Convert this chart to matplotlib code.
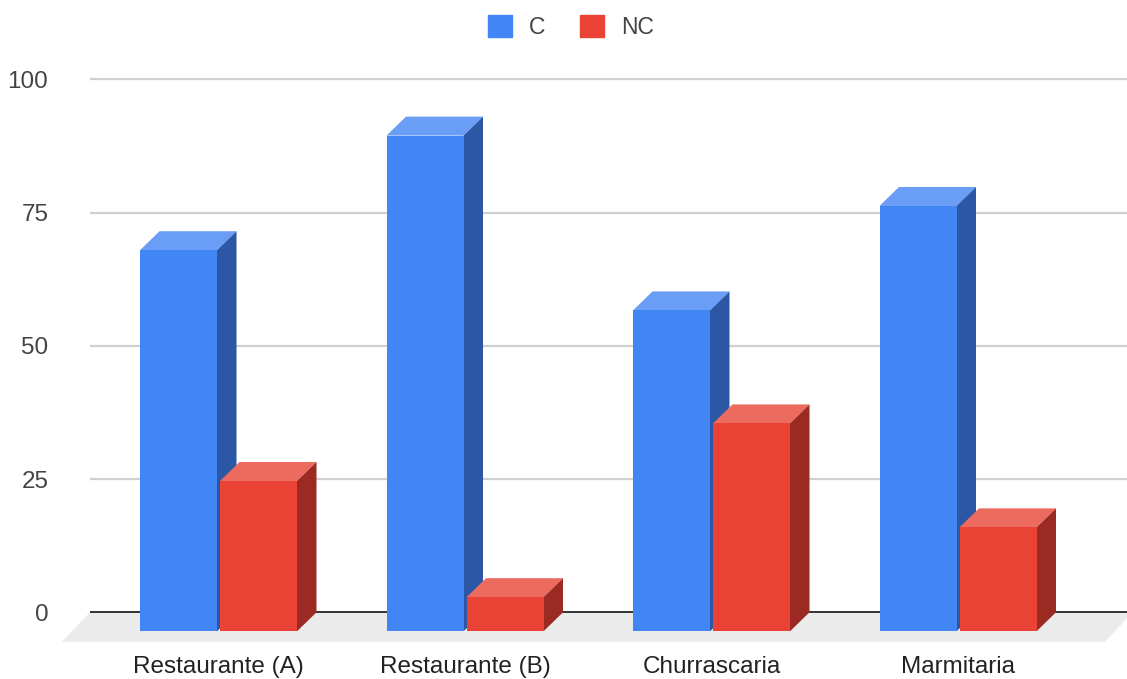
import matplotlib
matplotlib.use('Agg')
import matplotlib.pyplot as plt
from matplotlib.patches import Polygon, Patch

# data
categories = ['Restaurante (A)', 'Restaurante (B)', 'Churrascaria', 'Marmitaria']
c_values = [71.5, 93.0, 60.2, 79.8]
nc_values = [28.2, 6.4, 39.0, 19.5]
series_names = ['C', 'NC']
y_ticks = [0, 25, 50, 75, 100]

# colours: front, top, side
blue = ('#4285f4', '#6a9df6', '#2b57a5')
red = ('#ea4335', '#ed6a5e', '#9b2a22')

plt.rcParams['font.family'] = ['Liberation Sans', 'DejaVu Sans']

W, H = 1127, 679
fig = plt.figure(figsize=(W / 100, H / 100), dpi=100)
# axes box in pixels: x 90..1127, y 60..650
ax = fig.add_axes([90 / W, (H - 650) / H, (W - 90) / W, (650 - 60) / H])
px_x = 246.5      # pixels per category
px_y = 533 / 100  # pixels per unit
ax.set_xlim((90 - 218.5) / px_x, (W - 218.5) / px_x)
ax.set_ylim(-(650 - 612.3) / px_y, (612.3 - 60) / px_y)
for s in ax.spines.values():
    s.set_visible(False)

w = 77 / px_x
gap = 3 / px_x
dx = 19.5 / px_x
dy = 19 / px_y

# floor
floor = Polygon([(-0.635, -29.4 / px_y), (3.596, -29.4 / px_y),
                 (3.596 + 28 / px_x, 0), (-0.521, 0)],
                closed=True, facecolor='#ebebeb', edgecolor='none',
                clip_on=False, zorder=0)
ax.add_patch(floor)

for t in y_ticks[1:]:
    ax.axhline(t, color='#d0d0d0', lw=1.6, zorder=1)
ax.axhline(0, color='#333333', lw=1.4, zorder=1)


def draw_bar(center, v, cols, z):
    x0 = center - w / 2
    x1 = center + w / 2
    top = Polygon([(x0, v - dy), (x1, v - dy), (x1 + dx, v), (x0 + dx, v)],
                  closed=True, facecolor=cols[1], edgecolor='none', zorder=z)
    side = Polygon([(x1, -dy), (x1 + dx, 0), (x1 + dx, v), (x1, v - dy)],
                   closed=True, facecolor=cols[2], edgecolor='none', zorder=z + 1)
    ax.add_patch(top)
    ax.add_patch(side)
    ax.bar(center, v, width=w, bottom=-dy, color=cols[0], zorder=z + 2)


z = 3
for i in range(len(categories)):
    draw_bar(i - w / 2 - gap / 2, c_values[i], blue, z)
    z += 3
    draw_bar(i + w / 2 + gap / 2, nc_values[i], red, z)
    z += 3

ax.set_yticks(y_ticks)
ax.set_yticklabels([str(t) for t in y_ticks], fontsize=17.5, color='#444444')
ax.set_xticks(range(len(categories)))
ax.set_xticklabels(categories, fontsize=17.5, color='#222222')
ax.tick_params(axis='y', length=0, pad=30)
ax.tick_params(axis='x', length=0, pad=4)

handles = [Patch(color=blue[0], label=series_names[0]),
           Patch(color=red[0], label=series_names[1])]
fig.legend(handles=handles, loc='center', bbox_to_anchor=(571 / W, 1 - 27 / H),
           ncol=2, frameon=False, fontsize=16.5, handlelength=1.05,
           handleheight=1.05, handletextpad=0.75, columnspacing=1.5,
           labelcolor='#444444')

fig.savefig('out.png', dpi=100, facecolor='white')
